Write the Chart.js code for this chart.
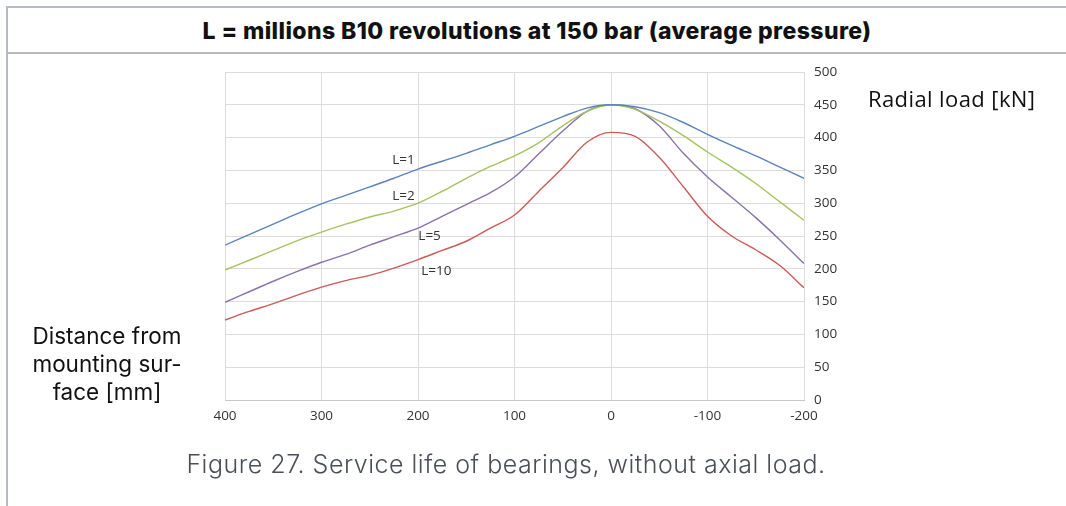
<!DOCTYPE html>
<html>
<head>
<meta charset="utf-8">
<script src="https://cdn.jsdelivr.net/npm/chart.js@4.4.1/dist/chart.umd.min.js"></script>
<style>
  html, body { margin: 0; padding: 0; background: #fff; }
  body { width: 1066px; height: 506px; position: relative; overflow: hidden; font-family: "Inter", sans-serif; }
  #frame { position: absolute; left: 6px; top: 6px; width: 1058px; height: 520px; border: 2px solid #b5bac4; border-bottom: none; }
  #title { position: absolute; left: 0; top: 0; width: 100%; height: 44px; border-bottom: 2px solid #b5bac4;
           text-align: center; line-height: 46px; font-weight: 800; font-size: 23px; letter-spacing: 0.4px; color: #111; }
  #chart-wrap { position: absolute; left: 0; top: 0; width: 1066px; height: 506px; }
  .lbl { position: absolute; color: #111; }
  #ylabel { left: 868px; top: 83px; font-family: "Open Sans", sans-serif; font-size: 22px; letter-spacing: 0.4px; }
  #xlabel { left: 10px; top: 322px; width: 194px; text-align: center; font-size: 22.5px; line-height: 28px; }
  #caption { left: 0; top: 449px; width: 1012px; text-align: center; font-size: 25px; font-weight: 300; letter-spacing: 0.5px; color: #4a4f57; }
</style>
</head>
<body>
<div id="frame"><div id="title">L = millions B10 revolutions at 150 bar (average pressure)</div></div>
<div id="chart-wrap"><canvas id="chart" width="1066" height="506"></canvas></div>
<div class="lbl" id="ylabel">Radial load [kN]</div>
<div class="lbl" id="xlabel">Distance from<br>mounting sur-<br>face [mm]</div>
<div class="lbl" id="caption">Figure 27. Service life of bearings, without axial load.</div>
<script>
// distance from mounting surface [mm], shared by all curves
const distances = [400, 375, 350, 325, 300, 275, 250, 225, 200, 175, 150, 125, 100, 75, 50, 25, 0,
                   -25, -50, -75, -100, -125, -150, -175, -200];

// radial load [kN] per life L (millions of revolutions)
const loadL1  = [236, 252, 268, 284, 299, 312, 325, 338, 352, 364, 376, 389, 402, 417, 432, 445, 450,
                 447, 438, 423, 405, 388, 372, 355, 338];
const loadL2  = [198, 213, 228, 243, 256, 268, 279, 288, 300, 318, 338, 356, 372, 392, 418, 440, 450,
                 443, 425, 403, 378, 355, 330, 302, 274];
const loadL5  = [149, 165, 181, 196, 210, 222, 236, 249, 262, 280, 298, 316, 340, 375, 410, 440, 450,
                 444, 418, 376, 340, 309, 278, 244, 208];
const loadL10 = [122, 135, 147, 160, 172, 182, 190, 201, 214, 228, 242, 262, 282, 318, 354, 393, 408,
                 402, 370, 325, 280, 250, 229, 205, 171];

const xTicks = [400, 300, 200, 100, 0, -100, -200];
const yTicks = [0, 50, 100, 150, 200, 250, 300, 350, 400, 450, 500];

// curve labels in data coordinates
const curveLabels = [
  { text: "L=1",  x: 215, y: 365 },
  { text: "L=2",  x: 215, y: 310 },
  { text: "L=5",  x: 188, y: 249 },
  { text: "L=10", x: 181, y: 197 }
];

function toPoints(values) {
  return values.map((v, i) => ({ x: distances[i], y: v }));
}

const curveLabelPlugin = {
  id: "curveLabels",
  afterDatasetsDraw(chart) {
    const ctx = chart.ctx;
    const xs = chart.scales.x, ys = chart.scales.y;
    ctx.save();
    ctx.font = "13.5px 'Open Sans', sans-serif";
    ctx.fillStyle = "#333";
    ctx.textAlign = "center";
    ctx.textBaseline = "middle";
    curveLabels.forEach(l => {
      ctx.fillText(l.text, xs.getPixelForValue(l.x), ys.getPixelForValue(l.y));
    });
    ctx.restore();
  }
};

const tickFont = { family: "'Open Sans', sans-serif", size: 13.5 };

new Chart(document.getElementById("chart"), {
  type: "line",
  data: {
    datasets: [
      { label: "L=1",  data: toPoints(loadL1),  borderColor: "#5b83c0" },
      { label: "L=2",  data: toPoints(loadL2),  borderColor: "#a5c35f" },
      { label: "L=5",  data: toPoints(loadL5),  borderColor: "#8a72ac" },
      { label: "L=10", data: toPoints(loadL10), borderColor: "#cc5a58" }
    ].map(d => Object.assign(d, { borderWidth: 1.4, pointRadius: 0, cubicInterpolationMode: "monotone", fill: false }))
  },
  options: {
    responsive: false,
    animation: false,
    layout: { padding: { left: 225, top: 72, right: 222, bottom: 82 } },
    plugins: { legend: { display: false }, tooltip: { enabled: false } },
    scales: {
      x: {
        type: "linear",
        reverse: true,
        min: -200,
        max: 400,
        afterBuildTicks: s => { s.ticks = xTicks.map(v => ({ value: v })); },
        afterFit: s => { s.height = 24; },
        grid: { color: "#dcdcdc", drawTicks: false },
        border: { color: "#c8c8c8" },
        ticks: { color: "#333", font: tickFont, padding: 8, maxRotation: 0 }
      },
      y: {
        position: "right",
        min: 0,
        max: 500,
        afterBuildTicks: s => { s.ticks = yTicks.map(v => ({ value: v })); },
        afterFit: s => { s.width = 40; },
        grid: { color: "#dcdcdc", drawTicks: false },
        border: { display: false },
        ticks: { color: "#333", font: tickFont, padding: 10 }
      }
    }
  },
  plugins: [curveLabelPlugin]
});
</script>
</body>
</html>
